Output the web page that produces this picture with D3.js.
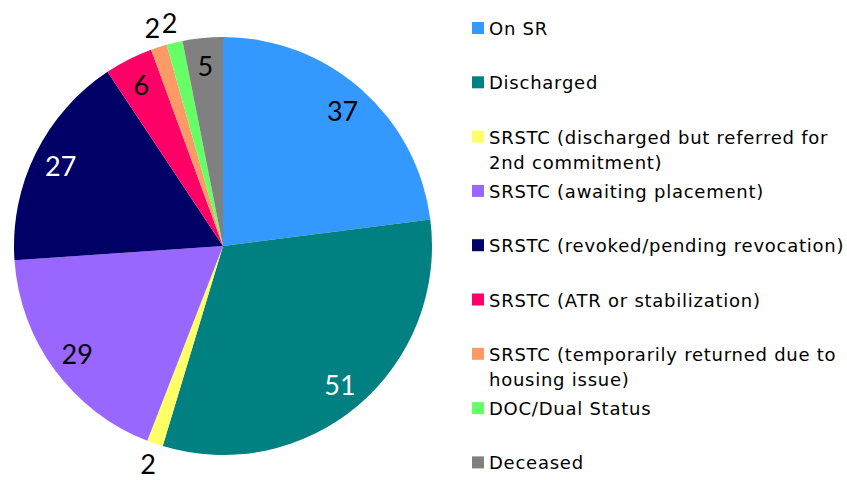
<!DOCTYPE html>
<html><head><meta charset="utf-8">
<script src="https://cdn.jsdelivr.net/npm/d3@7"></script>
<style>body{margin:0;background:#fff;}svg{display:block;}</style>
</head><body>
<svg id="chart" width="847" height="480"></svg>
<script>
const categories = [
  "On SR",
  "Discharged",
  "SRSTC (discharged but referred for 2nd commitment)",
  "SRSTC (awaiting placement)",
  "SRSTC (revoked/pending revocation)",
  "SRSTC (ATR or stabilization)",
  "SRSTC (temporarily returned due to housing issue)",
  "DOC/Dual Status",
  "Deceased"
];
const values = [37, 51, 2, 29, 27, 6, 2, 2, 5];
const colors = ["#3399FF","#008080","#FFFF66","#9966FF","#000066","#FF0066","#FF9966","#66FF66","#808080"];
const labelColors = ["#000","#fff","#000","#000","#fff","#000","#000","#000","#000"];

const FONT = "'DejaVu Sans', sans-serif";
const NUMFONT = "Lato, sans-serif";
const svg = d3.select("#chart");
const cx = 223, cy = 246, R = 209;
const data = categories.map((c,i)=>({name:c, value:values[i], i}));
const pie = d3.pie().value(d=>d.value).sort(null);
const arcs = pie(data);
const arc = d3.arc().innerRadius(0).outerRadius(R);
const g = svg.append("g").attr("transform",`translate(${cx},${cy})`);
g.selectAll("path").data(arcs).join("path")
  .attr("d", arc).attr("fill", d=>colors[d.data.i]);

// inside-end labels for large slices, outside-end for the tiny ones
const inR = R - 28, outR = R + 21;
g.selectAll("text.val").data(arcs).join("text")
  .attr("class","val")
  .attr("transform", d=>{
    const a = (d.startAngle+d.endAngle)/2;
    const r = (d.endAngle - d.startAngle) < 0.15 ? outR : inR;
    return `translate(${Math.sin(a)*r},${-Math.cos(a)*r})`;
  })
  .attr("text-anchor","middle").attr("dominant-baseline","central")
  .style("font-family",NUMFONT).style("font-size","27px")
  .attr("fill", d=>labelColors[d.data.i])
  .text(d=>d.data.value);

// legend
const lx = 472, ly0 = 28, step = 54.3, lineH = 25, fs = 18, ls = "0.75px";
const lg = svg.append("g");
const probe = lg.append("text").style("font-family",FONT).style("font-size",fs+"px").style("letter-spacing",ls).text(categories[4]);
const maxW = probe.node().getComputedTextLength() + 4;
probe.remove();
categories.forEach((c,i)=>{
  const y = ly0 + i*step;
  lg.append("rect").attr("x",lx).attr("y",y-6).attr("width",12).attr("height",12).attr("fill",colors[i]);
  const t = lg.append("text").attr("x",lx+17).attr("y",y).attr("dominant-baseline","central")
    .style("font-family",FONT).style("font-size",fs+"px").style("letter-spacing",ls).attr("fill","#000");
  const words = c.split(" ");
  let line = [], ts = t.append("tspan").attr("x",lx+17).attr("y",y), ln = 0;
  words.forEach(w=>{
    line.push(w); ts.text(line.join(" "));
    if (ts.node().getComputedTextLength() > maxW && line.length>1){
      line.pop(); ts.text(line.join(" "));
      line=[w]; ln++;
      ts = t.append("tspan").attr("x",lx+17).attr("y",y+ln*lineH).text(w);
    }
  });
});
</script>
</body></html>
